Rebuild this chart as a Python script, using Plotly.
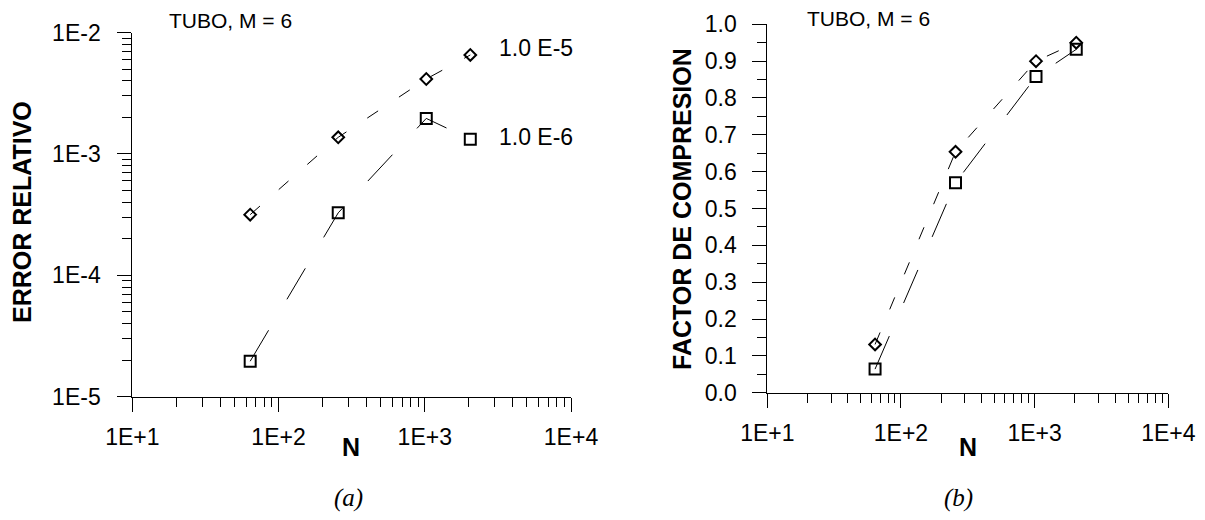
import plotly.graph_objects as go

# ---- data ----
N = [64, 256, 1024, 2048]
err_tol_1e5 = [3.16e-4, 1.37e-3, 4.14e-3, 6.53e-3]
err_tol_1e6 = [1.96e-5, 3.27e-4, 1.96e-3, 1.32e-3]
fc_tol_1e5 = [0.131, 0.654, 0.900, 0.950]
fc_tol_1e6 = [0.064, 0.570, 0.858, 0.932]

x_tickvals = [10, 100, 1000, 10000]
x_ticktext = ["1E+1", "1E+2", "1E+3", "1E+4"]
y1_tickvals = [1e-5, 1e-4, 1e-3, 1e-2]
y1_ticktext = ["1E-5", "1E-4", "1E-3", "1E-2"]

# page has an 8px body margin; size the figure so it fits the 1205x520 window
OFF = 8
W, H = 1205 - 2 * OFF, 520 - 2 * OFF
SANS = "Liberation Sans"
SERIF = "Liberation Serif"

def px_x(p):
    return (p - OFF) / W

def px_y(p):
    return 1 - (p - OFF) / H

fig = go.Figure()

dia_marker = dict(symbol="diamond-open", size=9, color="black", line=dict(width=2, color="black"))
sq_marker = dict(symbol="square-open", size=11, color="black", line=dict(width=2, color="black"))
dia_line = dict(color="black", width=1, dash="13px,25px")
sq_line = dict(color="black", width=1, dash="36px,36px")

fig.add_trace(go.Scatter(x=N, y=err_tol_1e5, mode="lines+markers", name="1.0 E-5",
                         line=dia_line, marker=dia_marker, xaxis="x", yaxis="y", showlegend=False))
fig.add_trace(go.Scatter(x=N, y=err_tol_1e6, mode="lines+markers", name="1.0 E-6",
                         line=sq_line, marker=sq_marker, xaxis="x", yaxis="y", showlegend=False))
fig.add_trace(go.Scatter(x=N, y=fc_tol_1e5, mode="lines+markers", name="1.0 E-5",
                         line=dia_line, marker=dia_marker, xaxis="x2", yaxis="y2", showlegend=False))
fig.add_trace(go.Scatter(x=N, y=fc_tol_1e6, mode="lines+markers", name="1.0 E-6",
                         line=sq_line, marker=sq_marker, xaxis="x2", yaxis="y2", showlegend=False))

tickfont = dict(family=SANS, size=23, color="black")
common = dict(showline=True, linecolor="black", linewidth=1, ticks="outside", ticklen=14,
              tickwidth=1, tickcolor="black", showgrid=False, zeroline=False, tickfont=tickfont,
              automargin=False)

xminor = dict(ticks="outside", ticklen=9, tickwidth=1, tickcolor="black", dtick="D1", showgrid=False)

fig.update_layout(
    width=W, height=H,
    margin=dict(l=0, r=0, t=0, b=0, pad=0, autoexpand=False),
    paper_bgcolor="white", plot_bgcolor="white",
    xaxis=dict(type="log", range=[1, 4], domain=[px_x(132.3), px_x(571)], anchor="y",
               tickmode="array", tickvals=x_tickvals, ticktext=x_ticktext,
               minor=xminor, ticklabelstandoff=6, **common),
    yaxis=dict(type="log", range=[-5, -2], domain=[px_y(396.7), px_y(32.5)], anchor="x",
               tickmode="array", tickvals=y1_tickvals, ticktext=y1_ticktext,
               minor=dict(ticks="outside", ticklen=9, tickwidth=1, tickcolor="black", dtick="D1", showgrid=False),
               ticklabelstandoff=12, **common),
    xaxis2=dict(type="log", range=[1, 4], domain=[px_x(767.3), px_x(1168.3)], anchor="y2",
                tickmode="array", tickvals=x_tickvals, ticktext=x_ticktext,
                minor=xminor, ticklabelstandoff=6, **common),
    yaxis2=dict(range=[0, 1], domain=[px_y(392.7), px_y(24.3)], anchor="x2",
                tickmode="linear", tick0=0, dtick=0.1, tickformat=".1f",
                minor=dict(ticks="outside", ticklen=9, tickwidth=1, tickcolor="black", dtick=0.05, showgrid=False),
                ticklabelstandoff=11, **common),
)

txt = dict(family=SANS, size=21, color="black")
lbl = dict(family=SANS, size=23, color="black")
bold = dict(family=SANS, size=25, color="black")
ann = []
# panel titles
ann.append(dict(text="TUBO, M = 6", x=px_x(166.7), y=px_y(20.5), xref="paper", yref="paper",
                xanchor="left", yanchor="middle", showarrow=False, font=txt))
ann.append(dict(text="TUBO, M = 6", x=px_x(805), y=px_y(18.3), xref="paper", yref="paper",
                xanchor="left", yanchor="middle", showarrow=False, font=txt))
# series labels
ann.append(dict(text="1.0 E-5", x=px_x(496.7), y=px_y(48.3), xref="paper", yref="paper",
                xanchor="left", yanchor="middle", showarrow=False, font=lbl))
ann.append(dict(text="1.0 E-6", x=px_x(496.7), y=px_y(136.7), xref="paper", yref="paper",
                xanchor="left", yanchor="middle", showarrow=False, font=lbl))
# axis titles
ann.append(dict(text="<b>ERROR RELATIVO</b>", x=px_x(22), y=px_y(212), xref="paper", yref="paper",
                xanchor="center", yanchor="middle", textangle=-90, showarrow=False, font=bold))
ann.append(dict(text="<b>FACTOR DE COMPRESION</b>", x=px_x(682), y=px_y(209), xref="paper", yref="paper",
                xanchor="center", yanchor="middle", textangle=-90, showarrow=False, font=bold))
ann.append(dict(text="<b>N</b>", x=px_x(351), y=px_y(446.5), xref="paper", yref="paper",
                xanchor="center", yanchor="middle", showarrow=False, font=bold))
ann.append(dict(text="<b>N</b>", x=px_x(967.5), y=px_y(446.5), xref="paper", yref="paper",
                xanchor="center", yanchor="middle", showarrow=False, font=bold))
# captions
ann.append(dict(text="<i>(a)</i>", x=px_x(348), y=px_y(498), xref="paper", yref="paper",
                xanchor="center", yanchor="middle", showarrow=False,
                font=dict(family=SERIF, size=25, color="black")))
ann.append(dict(text="<i>(b)</i>", x=px_x(958), y=px_y(498), xref="paper", yref="paper",
                xanchor="center", yanchor="middle", showarrow=False,
                font=dict(family=SERIF, size=25, color="black")))

fig.update_layout(annotations=ann)
fig.write_html("out.html")
